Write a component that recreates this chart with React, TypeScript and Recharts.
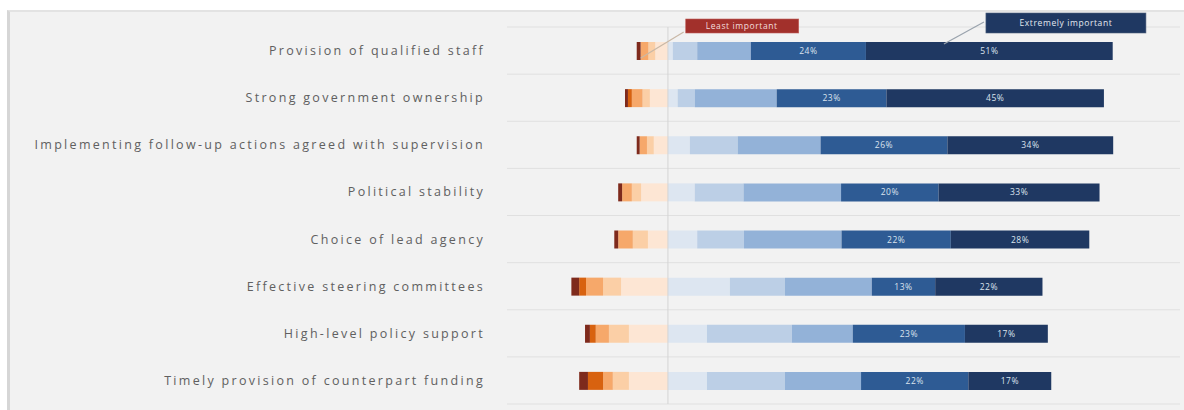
import React from 'react';
import { BarChart, Bar, XAxis, YAxis, CartesianGrid, ReferenceLine, LabelList } from 'recharts';

const categories = [
  'Provision of qualified staff',
  'Strong government ownership',
  'Implementing follow-up actions agreed with supervision',
  'Political stability',
  'Choice of lead agency',
  'Effective steering committees',
  'High-level policy support',
  'Timely provision of counterpart funding',
];

// Share of respondents (%) per importance level: 1 = least important ... 10 = extremely important
const level1 = [0.8, 0.6, 0.6, 0.8, 0.8, 1.6, 1.0, 1.8];
const level2 = [0.0, 0.8, 0.0, 0.0, 0.0, 1.4, 1.2, 3.1];
const level3 = [1.6, 2.2, 1.5, 2.0, 3.0, 3.5, 2.7, 2.0];
const level4 = [1.4, 1.5, 1.4, 1.9, 3.1, 3.7, 4.1, 3.3];
const level5 = [2.6, 3.7, 2.9, 5.5, 4.1, 9.6, 8.0, 8.0];
const level6 = [1.0, 2.0, 4.5, 5.5, 6.0, 12.7, 8.0, 8.0];
const level7 = [5.0, 3.5, 9.8, 10.0, 9.6, 11.3, 17.4, 16.0];
const level8 = [11.0, 16.8, 17.0, 20.0, 20.0, 17.8, 12.5, 15.6];
const level9 = [23.6, 22.5, 26, 20, 22.4, 13, 23, 22];
const level10 = [50.6, 44.6, 34, 33, 28.4, 22, 17, 17];

const lowLabel = 'Least important';
const highLabel = 'Extremely important';

const data = categories.map((name, i) => ({
  name,
  l1: -level1[i],
  l2: -level2[i],
  l3: -level3[i],
  l4: -level4[i],
  l5: -level5[i],
  l6: level6[i],
  l7: level7[i],
  l8: level8[i],
  l9: level9[i],
  l10: level10[i],
}));

const COLORS: Record<string, string> = {
  l1: '#7e2a1c',
  l2: '#d8620f',
  l3: '#f6a86a',
  l4: '#fbcfa6',
  l5: '#fde6d4',
  l6: '#dde6f1',
  l7: '#bccfe6',
  l8: '#93b2d8',
  l9: '#2e5b94',
  l10: '#1f3862',
};

const pct = (v: any) => `${Math.round(Math.abs(Number(v)))}%`;

const getBox = (props: any) => {
  const vb = props.viewBox || props;
  const x = Number(vb.x);
  const y = Number(vb.y);
  const w = Number(vb.width);
  const h = Number(vb.height);
  return { left: Math.min(x, x + w), right: Math.max(x, x + w), top: Math.min(y, y + h), h: Math.abs(h) };
};

const LowCallout = (props: any) => {
  if (props.index !== 0) return null;
  const { left, top } = getBox(props);
  return (
    <g>
      <line x1={left + 4} y1={top + 16} x2={left + 47} y2={top - 10} stroke="#c9b8a6" strokeWidth={1.2} />
      <rect x={left + 49} y={top - 23} width={113} height={14} fill="#a2302b" stroke="#c0605a" strokeWidth={0.6} />
      <text x={left + 105} y={top - 13} textAnchor="middle" fontSize={8.5} fill="#f3dede" fontFamily="'Open Sans', sans-serif" letterSpacing={0.6}>
        {lowLabel}
      </text>
    </g>
  );
};

const HighCallout = (props: any) => {
  if (props.index !== 0) return null;
  const { left, top } = getBox(props);
  return (
    <g>
      <line x1={left + 78} y1={top + 2} x2={left + 118} y2={top - 20} stroke="#9aa3ad" strokeWidth={1.2} />
      <rect x={left + 120} y={top - 29} width={160} height={20} fill="#1f3862" stroke="#50627e" strokeWidth={0.6} />
      <text x={left + 200} y={top - 16} textAnchor="middle" fontSize={8.5} fill="#e3e8f0" fontFamily="'Open Sans', sans-serif" letterSpacing={0.6}>
        {highLabel}
      </text>
    </g>
  );
};

const gridLines = ({ offset }: any) => {
  const n = categories.length;
  const step = offset.height / n;
  return Array.from({ length: n + 1 }, (_, i) => offset.top + i * step);
};

const labelStyle = { fill: '#dbe3ee', fontSize: 8.5, fontFamily: "'Open Sans', sans-serif", letterSpacing: 0.5 };

export default function App() {
  return (
    <div style={{ position: 'absolute', left: 0, top: 0, width: 1184, height: 410, background: '#ffffff', overflow: 'hidden' }}>
      <div
        style={{
          position: 'absolute',
          left: 7,
          top: 10,
          width: 1177,
          height: 400,
          background: '#f2f2f2',
          borderLeft: '3px solid #d6d6d6',
          borderTop: '2px solid #e3e3e3',
          boxSizing: 'border-box',
        }}
      />
      <div style={{ position: 'absolute', left: 0, top: 0 }}>
        <BarChart
          width={1184}
          height={410}
          data={data}
          layout="vertical"
          stackOffset="sign"
          barSize={18}
          margin={{ top: 27, right: 4, bottom: 6, left: 0 }}
        >
          <CartesianGrid horizontal vertical={false} stroke="#e0e0e0" horizontalCoordinatesGenerator={gridLines} />
          <XAxis type="number" hide domain={[-33, 105]} allowDataOverflow />
          <YAxis
            type="category"
            dataKey="name"
            width={507}
            interval={0}
            axisLine={false}
            tickLine={false}
            tickSize={0}
            tickMargin={22}
            tick={{ fill: '#606060', fontSize: 12.5, fontFamily: "'Open Sans', sans-serif", letterSpacing: 2.3 }}
          />
          <ReferenceLine x={0} stroke="#d4d4d4" strokeWidth={1} />
          <Bar dataKey="l5" stackId="a" fill={COLORS.l5} isAnimationActive={false} />
          <Bar dataKey="l4" stackId="a" fill={COLORS.l4} isAnimationActive={false} />
          <Bar dataKey="l3" stackId="a" fill={COLORS.l3} isAnimationActive={false} />
          <Bar dataKey="l2" stackId="a" fill={COLORS.l2} isAnimationActive={false} />
          <Bar dataKey="l1" stackId="a" fill={COLORS.l1} isAnimationActive={false}>
            <LabelList dataKey="l1" content={LowCallout} />
          </Bar>
          <Bar dataKey="l6" stackId="a" fill={COLORS.l6} isAnimationActive={false} />
          <Bar dataKey="l7" stackId="a" fill={COLORS.l7} isAnimationActive={false} />
          <Bar dataKey="l8" stackId="a" fill={COLORS.l8} isAnimationActive={false} />
          <Bar dataKey="l9" stackId="a" fill={COLORS.l9} isAnimationActive={false}>
            <LabelList dataKey="l9" position="center" formatter={pct} style={labelStyle} />
          </Bar>
          <Bar dataKey="l10" stackId="a" fill={COLORS.l10} isAnimationActive={false}>
            <LabelList dataKey="l10" position="center" formatter={pct} style={labelStyle} />
            <LabelList dataKey="l10" content={HighCallout} />
          </Bar>
        </BarChart>
      </div>
    </div>
  );
}
